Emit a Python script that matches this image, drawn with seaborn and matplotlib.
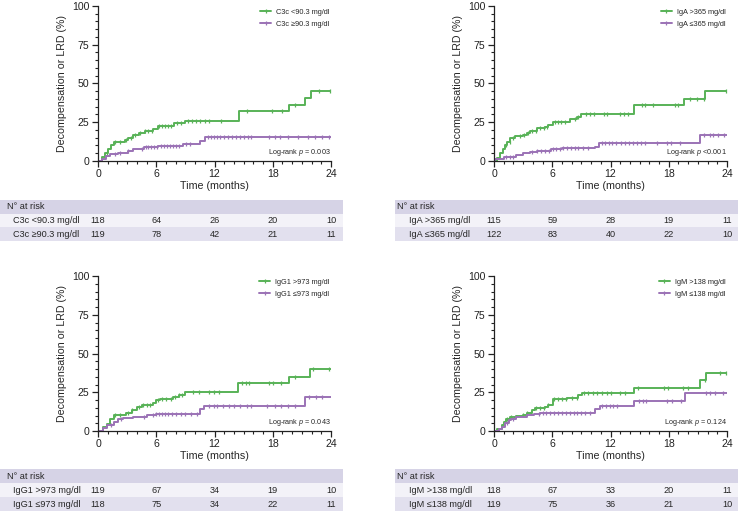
import numpy as np
import pandas as pd
import seaborn as sns
import matplotlib.pyplot as plt
from matplotlib.lines import Line2D

# ---- data ---------------------------------------------------------------
months = [0, 6, 12, 18, 24]

# panel 1: C3c
c3c_hi_t = [0, 0.4, 0.7, 1.0, 1.3, 1.6, 2.8, 3.1, 3.6, 4.2, 4.8, 5.7, 6.2, 7.8, 9.0, 14.5, 19.7, 21.3, 21.9, 24]
c3c_hi_y = [0, 2.5, 5, 7.5, 10, 12.5, 13.5, 14.6, 16.8, 18, 19.4, 20.4, 22.6, 24.3, 26, 32, 36, 40.5, 45.4, 45.4]
c3c_hi_cens = [0.9, 1.7, 2.3, 2.9, 3.4, 3.8, 4.3, 4.8, 5.2, 5.6, 6.3, 6.6, 6.9, 7.2, 7.5, 8.1, 8.5,
               9.3, 9.7, 10.1, 10.5, 11.0, 11.4, 12.7, 15.3, 17.9, 19.0, 20.3, 22.8, 23.9]
c3c_lo_t = [0, 0.4, 0.8, 1.2, 2.1, 3.1, 3.6, 4.7, 5.2, 6.2, 8.8, 10.5, 11.0, 24]
c3c_lo_y = [0, 1.5, 3, 4.5, 5.4, 6.7, 7.7, 8.8, 9.2, 9.9, 11, 13, 15.7, 15.7]
c3c_lo_cens = [1.7, 2.3, 3.1, 4.5, 4.9, 5.2, 5.5, 5.8, 6.1, 6.5, 6.8, 7.1, 7.4, 7.7, 8.0, 8.3, 9.1, 9.5,
               11.3, 11.6, 11.9, 12.3, 12.6, 13.0, 13.4, 13.8, 14.2, 14.6, 15.0, 15.4, 15.8, 17.6,
               18.2, 18.7, 19.6, 20.6, 21.6, 22.4, 23.1, 23.8]

# panel 2: IgA
iga_hi_t = [0, 0.3, 0.6, 0.9, 1.1, 1.3, 1.65, 2.2, 3.0, 3.4, 3.7, 4.4, 5.3, 5.6, 6.05, 7.8, 8.6, 9.0, 14.4, 19.6, 21.75, 24]
iga_hi_y = [0, 2, 5, 8, 10, 12, 14.6, 16, 16.8, 17.8, 19.4, 21, 22, 23.2, 25.4, 26.9, 28.6, 30.1, 35.9, 40.2, 45.4, 45.4]
iga_hi_cens = [1.2, 1.6, 2.0, 2.7, 3.1, 3.5, 3.9, 4.3, 4.7, 5.1, 5.5, 6.3, 6.6, 6.9, 7.3, 8.3, 8.7, 9.5,
               9.9, 10.3, 11.3, 11.6, 13.0, 13.4, 13.8, 15.2, 15.6, 16.4, 18.6, 19.0, 20.2, 20.9, 21.6, 23.9]
iga_lo_t = [0, 0.1, 1.0, 2.3, 3.0, 3.7, 4.4, 5.9, 7.0, 10.4, 10.8, 21.2, 24]
iga_lo_y = [0, 1, 2.8, 3.7, 4.9, 5.8, 6.7, 7.5, 8.2, 9.2, 11.8, 16.8, 16.8]
iga_lo_cens = [1.2, 1.6, 2.0, 3.9, 4.4, 4.8, 5.3, 5.7, 6.1, 6.4, 6.8, 7.1, 7.5, 7.9, 8.3, 8.7, 9.2, 9.7,
               11.1, 11.4, 11.8, 12.2, 12.6, 13.1, 13.5, 13.9, 14.3, 14.7, 15.1, 15.6, 16.8, 17.8,
               18.2, 19.2, 21.6, 22.2, 22.6, 23.1, 23.7]

# panel 3: IgG1
igg_hi_t = [0, 0.5, 0.9, 1.2, 1.6, 2.9, 3.5, 4.0, 4.5, 5.7, 6.0, 6.4, 7.7, 8.3, 9.0, 14.4, 19.7, 21.8, 24]
igg_hi_y = [0, 2.5, 4.7, 8, 10.5, 11.8, 13.3, 15.5, 17, 18.3, 19.8, 20.9, 21.9, 23, 25.2, 31.2, 34.8, 39.8, 39.8]
igg_hi_cens = [1.8, 2.3, 3.1, 3.5, 4.2, 4.6, 5.0, 5.4, 6.2, 6.6, 7.0, 7.5, 7.9, 8.3, 8.7, 9.8, 10.4,
               11.4, 11.9, 12.5, 14.8, 15.2, 15.6, 17.6, 18.0, 18.9, 20.3, 22.1, 23.8]
igg_lo_t = [0, 0.5, 0.9, 1.6, 2.1, 2.6, 3.6, 5.0, 6.0, 10.5, 10.9, 21.3, 24]
igg_lo_y = [0, 2, 3.7, 5.8, 7.5, 8.4, 9, 10.1, 11.2, 14, 16.1, 21.9, 21.9]
igg_lo_cens = [1.3, 2.4, 4.7, 5.7, 6.0, 6.3, 6.6, 6.9, 7.2, 7.6, 8.0, 8.5, 9.0, 9.6, 10.2, 11.4, 11.9,
               12.3, 12.9, 13.5, 14.0, 14.6, 15.3, 15.8, 17.4, 18.2, 18.9, 19.6, 20.3, 21.7, 22.5, 23.1]

# panel 4: IgM
igm_hi_t = [0, 0.3, 0.8, 1.0, 1.25, 1.65, 2.3, 3.0, 3.4, 3.9, 4.2, 5.3, 5.6, 6.05, 7.5, 8.7, 9.05, 14.4, 21.25, 21.8, 24]
igm_hi_y = [0, 1.5, 3.7, 5.8, 8, 9, 9.7, 10.5, 11.8, 13.3, 14.8, 15.5, 16.6, 20.4, 21.3, 23, 24.7, 27.7, 32.7, 37.6, 37.6]
igm_hi_cens = [1.3, 1.8, 3.0, 3.4, 3.8, 4.3, 4.7, 5.1, 5.6, 6.2, 6.6, 7.0, 7.4, 8.0, 8.5, 9.3, 9.7,
               10.2, 10.6, 11.1, 11.6, 12.1, 13.0, 13.5, 14.8, 17.5, 17.9, 19.5, 20.0, 21.7, 23.3, 23.9]
igm_lo_t = [0, 0.5, 0.8, 1.1, 1.5, 1.8, 2.3, 3.4, 4.1, 4.7, 10.4, 10.9, 14.4, 19.7, 24]
igm_lo_y = [0, 1, 2.6, 5.4, 6.9, 8, 9, 10.1, 10.8, 11.6, 14, 16.1, 19.1, 24.7, 24.7]
igm_lo_cens = [1.3, 2.0, 4.6, 5.0, 5.4, 5.8, 6.2, 6.6, 7.0, 7.4, 7.8, 8.2, 8.6, 9.0, 9.4, 9.9, 11.1,
               11.5, 11.9, 12.3, 12.7, 14.9, 15.3, 15.7, 17.8, 18.3, 19.3, 21.8, 22.3, 22.8, 23.6]

labels = [["C3c <90.3 mg/dl", "C3c \u226590.3 mg/dl"],
          ["IgA >365 mg/dl", "IgA \u2264365 mg/dl"],
          ["IgG1 >973 mg/dl", "IgG1 \u2264973 mg/dl"],
          ["IgM >138 mg/dl", "IgM \u2264138 mg/dl"]]
pvals = ["= 0.003", "<0.001", "= 0.043", "= 0.124"]
at_risk = [[[118, 64, 26, 20, 10], [119, 78, 42, 21, 11]],
           [[115, 59, 28, 19, 11], [122, 83, 40, 22, 10]],
           [[119, 67, 34, 19, 10], [118, 75, 34, 22, 11]],
           [[118, 67, 33, 20, 11], [119, 75, 36, 21, 10]]]

curves = [[(c3c_hi_t, c3c_hi_y, c3c_hi_cens), (c3c_lo_t, c3c_lo_y, c3c_lo_cens)],
          [(iga_hi_t, iga_hi_y, iga_hi_cens), (iga_lo_t, iga_lo_y, iga_lo_cens)],
          [(igg_hi_t, igg_hi_y, igg_hi_cens), (igg_lo_t, igg_lo_y, igg_lo_cens)],
          [(igm_hi_t, igm_hi_y, igm_hi_cens), (igm_lo_t, igm_lo_y, igm_lo_cens)]]

# ---- style ----------------------------------------------------------------
sns.set_style("ticks")
plt.rcParams['font.family'] = ['Liberation Sans', 'DejaVu Sans']
plt.rcParams['mathtext.fontset'] = 'custom'
plt.rcParams['mathtext.rm'] = 'Liberation Sans'
plt.rcParams['mathtext.it'] = 'Liberation Sans:italic'

colors = ['#58b257', '#9b72b6']
hdr_col = '#d6d3e6'
row_cols = ['#f3f2f8', '#e2e0ee']
W, H = 738, 511

fig = plt.figure(figsize=(7.38, 5.11), dpi=100)

# pixel boxes (left, right, top, bottom) for plot and table axes
plot_boxes = [(98, 331, 6, 161), (494, 727, 6, 161), (98, 331, 276, 431), (494, 727, 276, 431)]
table_boxes = [(0, 343, 200, 241), (395, 738, 200, 241), (0, 343, 469, 511), (395, 738, 469, 511)]
hdr_x = [7, 397, 7, 397]


def px_axes(l, r, t, b):
    return fig.add_axes([l / W, 1 - b / H, (r - l) / W, (b - t) / H])


for i in range(4):
    l, r, t, b = plot_boxes[i]
    ax = px_axes(l, r, t, b)
    handles = []
    for j in range(2):
        tt, yy, cens = curves[i][j]
        tt = np.array(tt)
        yy = np.array(yy)
        sns.lineplot(x=tt, y=yy, drawstyle='steps-post', color=colors[j], lw=1.4,
                     estimator=None, sort=False, ax=ax)
        cens = np.array(cens)
        idx = np.searchsorted(tt, cens, side='right') - 1
        ax.plot(cens, yy[idx], ls='none', marker='|', ms=3.2, mew=0.9, color=colors[j])
        handles.append(Line2D([0], [0], color=colors[j], lw=1.4, marker='|', ms=3.5, mew=0.9,
                              label=labels[i][j]))
    ax.set_xlim(0, 24)
    ax.set_ylim(0, 100)
    ax.set_xticks(months)
    ax.set_xticks(np.arange(0, 25, 1), minor=True)
    ax.set_yticks([0, 25, 50, 75, 100])
    ax.set_yticks(np.arange(0, 101, 5), minor=True)
    ax.tick_params(which='major', length=4, width=0.9, labelsize=7.6, colors='#222222', pad=2)
    ax.tick_params(which='minor', length=2.2, width=0.8, colors='#222222')
    for s in ['left', 'bottom']:
        ax.spines[s].set_linewidth(0.9)
        ax.spines[s].set_color('#222222')
    sns.despine(ax=ax)
    ax.set_xlabel('Time (months)', fontsize=7.7, labelpad=1)
    ax.set_ylabel('Decompensation or LRD (%)', fontsize=7.7, labelpad=4)
    ax.legend(handles=handles, loc='upper right', frameon=False, fontsize=5.3,
              handlelength=1.5, handletextpad=0.7, labelspacing=0.6,
              borderaxespad=0.1, bbox_to_anchor=(1.01, 1.005))
    ax.text(1.0, 0.055, 'Log-rank $p$ ' + pvals[i], transform=ax.transAxes,
            ha='right', va='center', fontsize=5.2)

    # number-at-risk table
    tl, tr, tt_, tb = table_boxes[i]
    tax = px_axes(tl, tr, tt_, tb)
    ppm = (r - l) / 24.0
    tax.set_xlim((tl - l) / ppm, (tr - l) / ppm)
    tax.set_ylim(0, 3)
    tax.axhspan(2, 3, color=hdr_col, lw=0)
    tax.axhspan(1, 2, color=row_cols[0], lw=0)
    tax.axhspan(0, 1, color=row_cols[1], lw=0)
    tax.axis('off')
    tax.text((hdr_x[i] - l) / ppm, 2.5, 'N\u00b0 at risk', ha='left', va='center', fontsize=6.6)
    for j in range(2):
        yrow = 1.5 - j
        tax.text(-85 / ppm, yrow, labels[i][j], ha='left', va='center', fontsize=6.6)
        for m, n in zip(months, at_risk[i][j]):
            tax.text(m, yrow, str(n), ha='center', va='center', fontsize=6.6)

fig.savefig('out.png', dpi=100)
